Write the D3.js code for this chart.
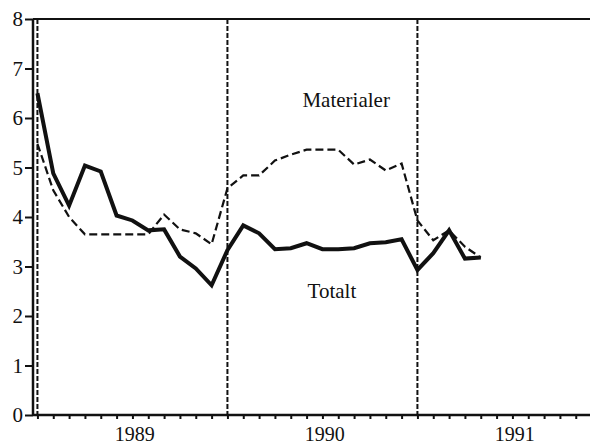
<!DOCTYPE html>
<html>
<head>
<meta charset="utf-8">
<script src="https://cdn.jsdelivr.net/npm/d3@7/dist/d3.min.js"></script>
<style>
body { margin:0; background:#fff; }
text { font-family:"Liberation Serif","Times New Roman",serif; fill:#111; }
</style>
</head>
<body>
<div id="chart"></div>
<script>
// months counted from Jan 1989 (0) to May 1991 (28)
var months = d3.range(0, 29)
var totalt = [6.5, 4.88, 4.23, 5.04, 4.92, 4.03, 3.93, 3.73, 3.75, 3.2, 2.96, 2.62,
	3.33, 3.83, 3.67, 3.35, 3.37, 3.47, 3.35, 3.35, 3.37, 3.47, 3.49, 3.55,
	2.93, 3.27, 3.73, 3.16, 3.18]
var materialer = [5.48, 4.54, 4.0, 3.65, 3.65, 3.65, 3.65, 3.65, 4.05, 3.75, 3.67, 3.45,
	4.58, 4.84, 4.84, 5.14, 5.26, 5.36, 5.36, 5.36, 5.06, 5.16, 4.94, 5.08,
	3.93, 3.53, 3.73, 3.4, 3.18]
var yTicks = [0, 1, 2, 3, 4, 5, 6, 7, 8]
var years = ['1989', '1990', '1991']
var yearStarts = [0, 12, 24]
var monthTicks = d3.range(0, 35)
var seriesLabels = [{name:'Materialer', m:19.5, v:6.22}, {name:'Totalt', m:18.6, v:2.36}]

var width = 590, height = 445
var svg = d3.select('#chart').append('svg').attr('width', width).attr('height', height)

var x = d3.scaleLinear().domain([-0.28, 34.9]).range([33, 590])
var y = d3.scaleLinear().domain([0, 8]).range([415, 19])

// year dividers
svg.selectAll('.divider').data(yearStarts).enter().append('line')
	.attr('x1', function(d) { return x(d) }).attr('x2', function(d) { return x(d) })
	.attr('y1', y(8)).attr('y2', y(0))
	.attr('stroke', '#111').attr('stroke-width', 2).attr('stroke-dasharray', '5,2')

// axes
var yAxis = d3.axisLeft(y).tickValues(yTicks).tickSize(8).tickPadding(2).tickFormat(d3.format('d'))
var gy = svg.append('g').attr('transform', 'translate(' + x.range()[0] + ',0)').call(yAxis)
gy.select('.domain').remove()
gy.selectAll('.tick line').attr('stroke', '#111').attr('stroke-width', 2)
gy.selectAll('.tick text').attr('font-size', 21).attr('font-family', '"Liberation Serif",serif').attr('fill', '#111')

var xAxis = d3.axisBottom(x).tickValues(monthTicks).tickSize(4).tickFormat('')
var gx = svg.append('g').attr('transform', 'translate(0,' + y(0) + ')').call(xAxis)
gx.select('.domain').remove()
gx.selectAll('.tick line').attr('stroke', '#111').attr('stroke-width', 2)

svg.append('line').attr('x1', x.range()[0]).attr('x2', x.range()[1]).attr('y1', y(0)).attr('y2', y(0))
	.attr('stroke', '#111').attr('stroke-width', 2.5)
svg.append('line').attr('x1', x.range()[0]).attr('x2', x.range()[1]).attr('y1', y(8)).attr('y2', y(8))
	.attr('stroke', '#111').attr('stroke-width', 2)
svg.append('line').attr('x1', x.range()[0]).attr('x2', x.range()[0]).attr('y1', y(8)).attr('y2', y(0))
	.attr('stroke', '#111').attr('stroke-width', 2.5)

svg.selectAll('.year').data(years).enter().append('text')
	.attr('x', function(d, i) { return x(yearStarts[i] + 6.15) })
	.attr('y', 441)
	.attr('text-anchor', 'middle').attr('font-size', 20)
	.text(function(d) { return d })

// lines
var line = function(vals) {
	return d3.line().x(function(d) { return x(d) }).y(function(d, i) { return y(vals[i]) })(months)
}
svg.append('path').attr('d', line(materialer)).attr('fill', 'none')
	.attr('stroke', '#111').attr('stroke-width', 2.2).attr('stroke-dasharray', '8,4')
svg.append('path').attr('d', line(totalt)).attr('fill', 'none')
	.attr('stroke', '#111').attr('stroke-width', 4)

svg.selectAll('.label').data(seriesLabels).enter().append('text')
	.attr('x', function(d) { return x(d.m) }).attr('y', function(d) { return y(d.v) })
	.attr('text-anchor', 'middle').attr('font-size', 21)
	.text(function(d) { return d.name })
</script>
</body>
</html>
